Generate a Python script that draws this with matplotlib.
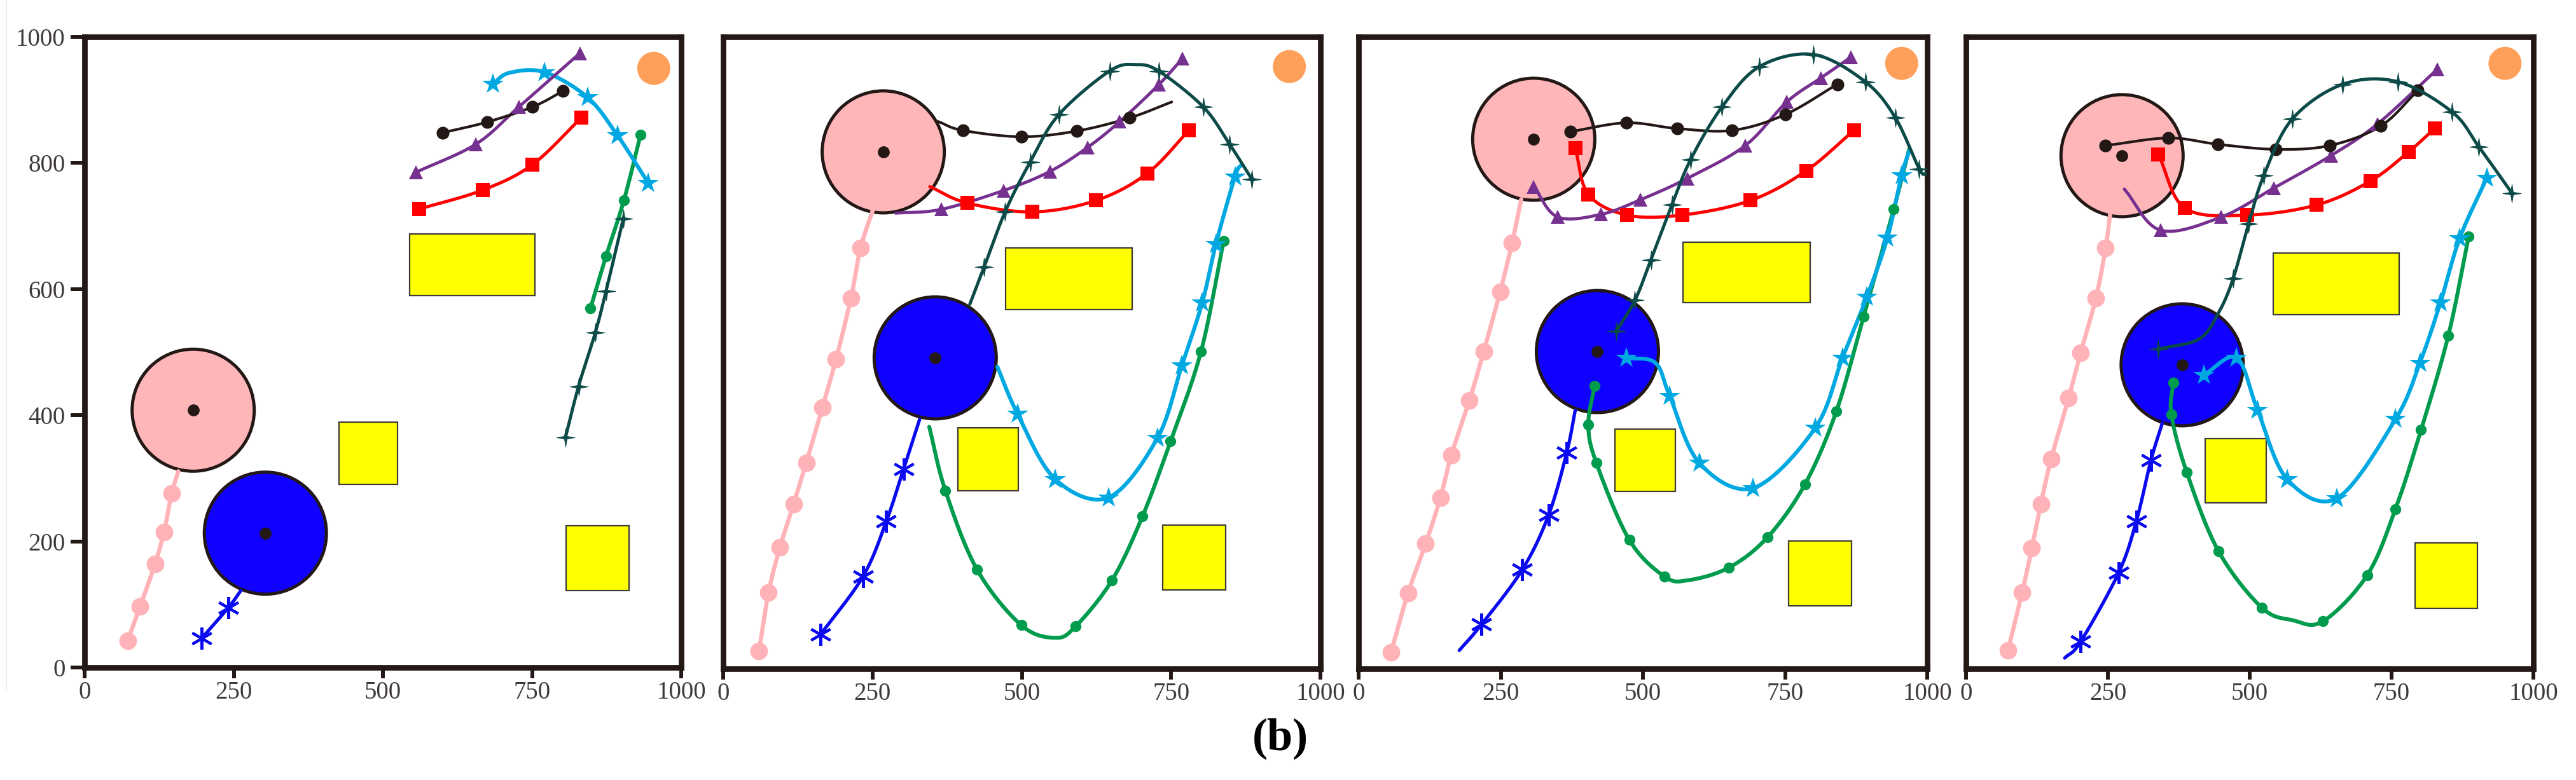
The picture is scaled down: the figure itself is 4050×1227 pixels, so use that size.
import matplotlib
matplotlib.use("Agg")
import matplotlib.pyplot as plt
from matplotlib.patches import Ellipse, Rectangle
from matplotlib.lines import Line2D
from matplotlib.path import Path
import numpy as np

# ---------------- data ----------------
X_TICKS = [0, 250, 500, 750, 1000]
Y_TICKS = [0, 200, 400, 600, 800, 1000]

# obstacle centres per panel
PINK_CIRCLE = [(182, 408), (268, 818), (308, 838), (275, 812)]
BLUE_CIRCLE = [(303, 213), (355, 492), (420, 502), (381, 481)]
ORANGE_GOAL = [(954, 950), (948, 953), (955, 958), (950, 958)]

# yellow rectangles (x0, y0, w, h) per panel
RECTS_P1 = [(545, 590, 210, 97), (426, 290, 99, 99), (807, 122, 106, 103)]
RECTS_P2 = [(473, 568, 212, 98), (393, 282, 101, 99), (736, 125, 105, 102)]
RECTS_P3 = [(571, 579, 223, 96), (451, 281, 106, 98), (756, 100, 111, 102)]
RECTS_P4 = [(541, 560, 222, 98), (421, 263, 108, 101), (791, 96, 110, 103)]

# trajectories: list of (x, y); *_PLAIN = indices drawn without marker
P1_PINK = [(72, 42), (93, 97), (118, 164), (133, 215), (146, 276), (157, 311)]
P1_PINK_PLAIN = [5]
P1_BLUE = [(196, 46), (241, 95), (262, 122)]
P1_BLUE_PLAIN = [2]
P1_BLACK = [(600, 848), (675, 865), (751, 889), (802, 914)]
P1_BLACK_PLAIN = []
P1_PURPLE = [(555, 785), (656, 830), (728, 889), (830, 974)]
P1_PURPLE_PLAIN = []
P1_RED = [(561, 727), (667, 757), (750, 797), (833, 872)]
P1_RED_PLAIN = []
P1_CYAN = [(684, 925), (712, 943), (771, 944), (843, 904), (893, 844), (945, 768)]
P1_CYAN_PLAIN = [1]
P1_GREEN = [(848, 570), (874, 652), (904, 741), (932, 845)]
P1_GREEN_PLAIN = []
P1_TEAL = [(806, 365), (828, 446), (856, 531), (874, 597), (903, 712)]
P1_TEAL_PLAIN = []

P2_PINK = [(60, 28), (76, 121), (95, 192), (118, 261), (139, 326), (166, 413),
           (189, 490), (214, 587), (230, 666), (251, 727)]
P2_PINK_PLAIN = [9]
P2_BLUE = [(163, 54), (234, 146), (273, 233), (302, 316), (329, 395)]
P2_BLUE_PLAIN = [4]
P2_BLACK = [(360, 866), (401, 852), (499, 842), (592, 851), (681, 872), (751, 897)]
P2_BLACK_PLAIN = [0, 5]
P2_PURPLE = [(289, 721), (365, 727), (470, 757), (547, 787), (610, 825),
             (664, 866), (730, 925), (769, 966)]
P2_PURPLE_PLAIN = [0]
P2_RED = [(346, 763), (409, 737), (518, 723), (624, 741), (710, 784), (780, 852)]
P2_RED_PLAIN = [0]
P2_CYAN = [(459, 478), (493, 403), (556, 300), (645, 271), (727, 365), (768, 480),
           (802, 579), (825, 672), (857, 779), (868, 798)]
P2_CYAN_PLAIN = [0, 9]
P2_GREEN = [(345, 383), (372, 282), (425, 157), (499, 69), (556, 49), (590, 67),
            (651, 140), (702, 241), (749, 360), (800, 502), (838, 677)]
P2_GREEN_PLAIN = [0, 4]
P2_TEAL = [(413, 577), (437, 636), (472, 723), (514, 802), (562, 877), (647, 946),
           (690, 956), (729, 946), (804, 889), (848, 830), (885, 775)]
P2_TEAL_PLAIN = [0, 6]

P3_PINK = [(57, 26), (87, 120), (118, 198), (144, 271), (163, 338), (195, 425),
           (220, 502), (249, 597), (270, 674), (286, 743)]
P3_PINK_PLAIN = [9]
P3_BLUE = [(177, 29), (216, 70), (288, 157), (334, 243), (366, 342), (381, 409)]
P3_BLUE_PLAIN = [0, 5]
P3_BLACK = [(372, 850), (471, 864), (560, 855), (657, 852), (750, 877), (842, 925)]
P3_BLACK_PLAIN = []
P3_PURPLE = [(308, 763), (350, 715), (426, 719), (495, 742), (578, 776),
             (680, 828), (753, 897), (813, 935), (866, 968)]
P3_PURPLE_PLAIN = []
P3_RED = [(381, 824), (404, 751), (472, 718), (569, 718), (689, 741), (787, 788), (871, 852)]
P3_RED_PLAIN = []
P3_CYAN = [(471, 492), (522, 484), (547, 432), (599, 326), (694, 286), (803, 381),
           (851, 492), (894, 589), (930, 682), (955, 781), (969, 821)]
P3_CYAN_PLAIN = [1, 10]
P3_GREEN = [(415, 448), (404, 386), (418, 326), (476, 204), (538, 146), (579, 140),
            (651, 160), (719, 208), (785, 292), (840, 407), (888, 557), (941, 727), (968, 822)]
P3_GREEN_PLAIN = [5, 12]
P3_TEAL = [(453, 534), (486, 583), (514, 647), (551, 734), (584, 806), (639, 889),
           (705, 953), (800, 972), (891, 929), (944, 872), (986, 791), (998, 783)]
P3_TEAL_PLAIN = [11]

P4_PINK = [(74, 29), (99, 121), (116, 191), (132, 261), (150, 332), (181, 429),
           (202, 500), (229, 587), (246, 666), (254, 719)]
P4_PINK_PLAIN = [9]
P4_BLUE = [(174, 17), (202, 43), (269, 152), (300, 233), (326, 330), (346, 389)]
P4_BLUE_PLAIN = [0, 5]
P4_BLACK = [(246, 828), (357, 840), (444, 830), (546, 822), (641, 828), (731, 859), (796, 915)]
P4_BLACK_PLAIN = []
P4_PURPLE = [(279, 759), (343, 694), (450, 715), (543, 761), (643, 812), (725, 862), (831, 949)]
P4_PURPLE_PLAIN = [0]
P4_RED = [(339, 814), (386, 729), (495, 718), (618, 734), (713, 772), (780, 818), (826, 855)]
P4_RED_PLAIN = []
P4_CYAN = [(419, 465), (477, 492), (514, 409), (566, 300), (654, 270), (757, 395),
           (800, 484), (836, 579), (870, 681), (918, 777)]
P4_CYAN_PLAIN = []
P4_GREEN = [(365, 453), (362, 402), (389, 311), (445, 186), (521, 97), (575, 77),
            (629, 75), (707, 148), (757, 253), (802, 378), (850, 527), (886, 684)]
P4_GREEN_PLAIN = [5]
P4_TEAL = [(339, 506), (411, 522), (446, 565), (471, 618), (498, 704), (525, 781),
           (575, 870), (664, 925), (761, 929), (857, 881), (904, 826), (962, 753)]
P4_TEAL_PLAIN = [1, 2]

# ---------------- styling ----------------
DARK = "#231815"
THIN_STAR4 = Path.unit_regular_star(4, 0.2)
STYLE = {
    "pink":   dict(color="#FFB3B8", lw=4.8, marker="o", ms=20, mew=0, z=3),
    "blue":   dict(color="#0A0AF0", lw=3.8, marker=(6, 2, 0), ms=25, mew=3.0, z=3),
    "green":  dict(color="#009B4C", lw=4.4, marker="o", ms=12.5, mew=0, z=3),
    "cyan":   dict(color="#00A8E1", lw=4.4, marker="*", ms=25, mew=0, z=3),
    "red":    dict(color="#FF0000", lw=3.6, marker="s", ms=16, mew=0, z=4),
    "purple": dict(color="#76308F", lw=3.5, marker="^", ms=16, mew=0, z=4),
    "black":  dict(color=DARK, lw=3.0, marker="o", ms=14.5, mew=0, z=4),
    "teal":   dict(color="#0B4A47", lw=3.6, marker=THIN_STAR4, ms=21, mew=0.6, z=5),
}

PANELS = [
    dict(rects=RECTS_P1, traj={"pink": (P1_PINK, P1_PINK_PLAIN), "blue": (P1_BLUE, P1_BLUE_PLAIN),
         "green": (P1_GREEN, P1_GREEN_PLAIN), "cyan": (P1_CYAN, P1_CYAN_PLAIN),
         "red": (P1_RED, P1_RED_PLAIN), "purple": (P1_PURPLE, P1_PURPLE_PLAIN),
         "black": (P1_BLACK, P1_BLACK_PLAIN), "teal": (P1_TEAL, P1_TEAL_PLAIN)}),
    dict(rects=RECTS_P2, traj={"pink": (P2_PINK, P2_PINK_PLAIN), "blue": (P2_BLUE, P2_BLUE_PLAIN),
         "green": (P2_GREEN, P2_GREEN_PLAIN), "cyan": (P2_CYAN, P2_CYAN_PLAIN),
         "red": (P2_RED, P2_RED_PLAIN), "purple": (P2_PURPLE, P2_PURPLE_PLAIN),
         "black": (P2_BLACK, P2_BLACK_PLAIN), "teal": (P2_TEAL, P2_TEAL_PLAIN)}),
    dict(rects=RECTS_P3, traj={"pink": (P3_PINK, P3_PINK_PLAIN), "blue": (P3_BLUE, P3_BLUE_PLAIN),
         "green": (P3_GREEN, P3_GREEN_PLAIN), "cyan": (P3_CYAN, P3_CYAN_PLAIN),
         "red": (P3_RED, P3_RED_PLAIN), "purple": (P3_PURPLE, P3_PURPLE_PLAIN),
         "black": (P3_BLACK, P3_BLACK_PLAIN), "teal": (P3_TEAL, P3_TEAL_PLAIN)}),
    dict(rects=RECTS_P4, traj={"pink": (P4_PINK, P4_PINK_PLAIN), "blue": (P4_BLUE, P4_BLUE_PLAIN),
         "green": (P4_GREEN, P4_GREEN_PLAIN), "cyan": (P4_CYAN, P4_CYAN_PLAIN),
         "red": (P4_RED, P4_RED_PLAIN), "purple": (P4_PURPLE, P4_PURPLE_PLAIN),
         "black": (P4_BLACK, P4_BLACK_PLAIN), "teal": (P4_TEAL, P4_TEAL_PLAIN)}),
]

W, H, DPI = 4050, 1227, 100
# axes boxes in pixels: left, right, top, bottom
AX_PX = [(133, 1071, 58, 1050), (1137, 2076, 58, 1052),
         (2136, 3030, 58, 1052), (3091, 3983, 58, 1052)]
OBST_R_PX = 96
GOAL_R_PX = 26


def smooth(pts, n=24):
    """Catmull-Rom curve through the read points (rendering only)."""
    p = np.asarray(pts, float)
    if len(p) < 3:
        return p[:, 0], p[:, 1]
    ext = np.vstack([2 * p[0] - p[1], p, 2 * p[-1] - p[-2]])
    t = np.linspace(0, 1, n, endpoint=False)[:, None]
    out = []
    for i in range(1, len(ext) - 2):
        p0, p1, p2, p3 = ext[i - 1], ext[i], ext[i + 1], ext[i + 2]
        seg = 0.5 * ((2 * p1) + (-p0 + p2) * t + (2 * p0 - 5 * p1 + 4 * p2 - p3) * t ** 2
                     + (-p0 + 3 * p1 - 3 * p2 + p3) * t ** 3)
        out.append(seg)
    out.append(p[-1][None, :])
    out = np.vstack(out)
    return out[:, 0], out[:, 1]


plt.rcParams["font.family"] = ["Liberation Serif", "DejaVu Serif"]
fig = plt.figure(figsize=(W / DPI, H / DPI), dpi=DPI, facecolor="white")

for k, panel in enumerate(PANELS):
    l, r, t, b = AX_PX[k]
    wpx, hpx = r - l, b - t
    ax = fig.add_axes([l / W, 1 - b / H, wpx / W, hpx / H])
    ax.set_xlim(0, 1000)
    ax.set_ylim(0, 1000)
    sx, sy = 1000.0 / wpx, 1000.0 / hpx   # data units per pixel

    # obstacles
    for (cx, cy), fc in ((PINK_CIRCLE[k], "#FFB6B9"), (BLUE_CIRCLE[k], "#1000FF")):
        ax.add_patch(Ellipse((cx, cy), 2 * OBST_R_PX * sx, 2 * OBST_R_PX * sy,
                             facecolor=fc, edgecolor=DARK, lw=3.6, zorder=2))
    for (x0, y0, rw, rh) in panel["rects"]:
        ax.add_patch(Rectangle((x0, y0), rw, rh, facecolor="#FFFF00",
                               edgecolor="#3E3A39", lw=1.6, zorder=2))
    gx, gy = ORANGE_GOAL[k]
    ax.add_patch(Ellipse((gx, gy), 2 * GOAL_R_PX * sx, 2 * GOAL_R_PX * sy,
                         facecolor="#FFA05A", edgecolor="none", zorder=2))

    # trajectories
    for name, (pts, plain) in panel["traj"].items():
        st = STYLE[name]
        xs, ys = smooth(pts)
        ax.plot(xs, ys, color=st["color"], lw=st["lw"], solid_capstyle="round",
                zorder=st["z"])
        mk = [p for i, p in enumerate(pts) if i not in plain]
        if mk:
            mx, my = zip(*mk)
            ax.plot(mx, my, ls="none", marker=st["marker"], ms=st["ms"],
                    color=st["color"], mec=st["color"], mew=st["mew"],
                    zorder=st["z"] + 0.5)

    # centre dots of the two circles
    for (cx, cy) in (PINK_CIRCLE[k], BLUE_CIRCLE[k]):
        ax.plot(cx, cy, "o", color=DARK, ms=12.5, zorder=6)

    for sp in ax.spines.values():
        sp.set_linewidth(6.3)
        sp.set_color(DARK)
    ax.set_xticks(X_TICKS)
    ax.set_xticklabels([str(v) for v in X_TICKS])
    if k == 0:
        ax.set_yticks(Y_TICKS)
        ax.set_yticklabels([str(v) for v in Y_TICKS])
    else:
        ax.set_yticks([])
    ax.tick_params(axis="x", direction="out", length=12, width=4.3, pad=3,
                   labelsize=28, labelcolor="#3E3A39", color=DARK)
    ax.tick_params(axis="y", direction="out", length=16, width=4.3, pad=6,
                   labelsize=28, labelcolor="#3E3A39", color=DARK)

fig.text(2013 / W, 1 - 1162 / H, "(b)", fontsize=52, fontweight="bold",
         ha="center", va="center", color="black")
fig.add_artist(Line2D([10 / W, 10 / W], [1.0, 1 - 1085 / H], color="#ececec", lw=1.2))

fig.savefig("out.png", dpi=DPI, facecolor="white")
